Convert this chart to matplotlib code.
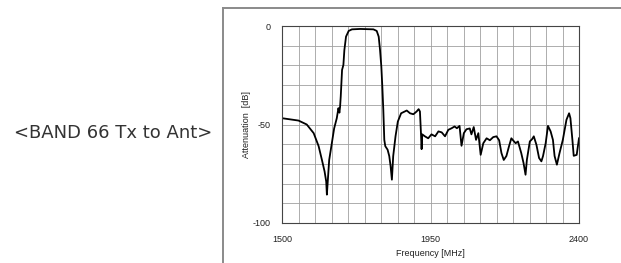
import numpy as np
import matplotlib
matplotlib.use("Agg")
import matplotlib.pyplot as plt
from matplotlib.lines import Line2D

plt.rcParams['axes.unicode_minus'] = False

# frequency response
freq = [1500, 1550, 1575, 1596, 1611, 1621, 1629, 1634, 1636, 1639, 1643, 1651,
        1658, 1666, 1671, 1674, 1676, 1678, 1682, 1686, 1689, 1694, 1702, 1712,
        1737, 1777, 1787, 1793, 1797, 1801, 1804, 1807, 1810, 1813, 1820, 1825,
        1829, 1833, 1837, 1844, 1851, 1861, 1878, 1888, 1898, 1908, 1914, 1918,
        1921, 1923, 1925, 1933, 1943, 1953, 1964, 1974, 1984, 1994, 2004, 2014,
        2023, 2030, 2038, 2044, 2051, 2059, 2069, 2074, 2081, 2088, 2095, 2102,
        2110, 2120, 2130, 2140, 2150, 2158, 2165, 2172, 2180, 2188, 2195, 2200,
        2208, 2215, 2225, 2232, 2238, 2242, 2251, 2258, 2263, 2271, 2279, 2286,
        2291, 2299, 2306, 2314, 2321, 2326, 2333, 2341, 2351, 2362, 2370, 2374,
        2380, 2384, 2393, 2400]
atten = [-46.8, -48.0, -50.0, -54.4, -61.0, -68.0, -73.8, -79.0, -85.6, -78.0, -68.0, -59.5,
         -52.0, -46.8, -41.7, -44.0, -41.0, -35.8, -22.3, -19.8, -12.2, -5.4, -2.5, -1.7,
         -1.5, -1.7, -2.5, -5.4, -12.0, -20.6, -30.7, -42.6, -57.8, -61.0, -62.8, -66.0,
         -71.0, -78.0, -66.0, -56.0, -48.5, -44.3, -42.9, -44.3, -44.8, -43.4, -42.2, -43.4,
         -54.0, -62.5, -55.0, -56.0, -57.0, -55.0, -56.0, -53.5, -54.0, -56.0, -52.7, -51.9,
         -51.0, -51.9, -50.7, -60.8, -54.4, -52.4, -52.0, -55.0, -51.3, -57.8, -54.4, -65.4,
         -59.5, -57.0, -58.0, -56.4, -56.0, -58.0, -64.5, -68.0, -66.0, -61.0, -57.0, -58.0,
         -59.5, -58.6, -64.5, -69.6, -75.5, -68.0, -58.6, -57.4, -56.0, -60.3, -67.0, -68.7,
         -66.0, -59.5, -50.7, -53.5, -57.8, -66.0, -70.4, -64.5, -57.8, -47.6, -44.3, -46.8,
         -57.8, -65.9, -65.4, -57.0]

xticks = [1500, 1950, 2400]
yticks = [0, -50, -100]

W, H = 621, 263
fig = plt.figure(figsize=(W / 100, H / 100), dpi=100)

ax = fig.add_axes([282 / W, 1 - 223 / H, 297 / W, 197 / H])
ax.set_xlim(1500, 2400)
ax.set_ylim(-100, 0)
ax.set_xticks(np.arange(1500, 2401, 50), minor=True)
ax.set_yticks(np.arange(-100, 1, 10), minor=True)
ax.set_xticks(xticks)
ax.set_yticks(yticks)
ax.grid(True, which='both', color='#a0a0a0', lw=0.6)
ax.set_axisbelow(True)
ax.tick_params(which='both', length=0)
ax.tick_params(axis='y', pad=8.5, labelsize=6.5)
ax.tick_params(axis='x', pad=8.5, labelsize=6.5)
for lab in ax.get_xticklabels() + ax.get_yticklabels():
    lab.set_family('Liberation Sans')
    lab.set_color('#222222')
for s in ax.spines.values():
    s.set_color('#444444')
    s.set_linewidth(0.8)

ax.plot(freq, atten, color='black', lw=1.3)

ax.set_xlabel('Frequency [MHz]', fontsize=6.5, family='Liberation Sans',
              labelpad=4, color='#222222')
ax.set_ylabel('Attenuation  [dB]', fontsize=6.5, family='Liberation Sans',
              labelpad=1, color='#222222')

# outer frame around the chart
fig.add_artist(Line2D([223 / W, 223 / W], [0, 1 - 8 / H], color='#8a8a8a', lw=1.4))
fig.add_artist(Line2D([223 / W, 1], [1 - 8 / H, 1 - 8 / H], color='#8a8a8a', lw=1.4))

fig.text(113 / W, 1 - 133 / H, '<BAND 66 Tx to Ant>', fontsize=13,
         family=['DejaVu Sans'], ha='center', va='center',
         color='#333333')

fig.savefig('out.png', dpi=100)
